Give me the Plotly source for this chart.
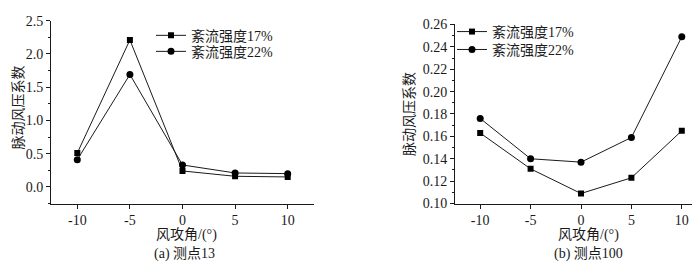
import plotly.graph_objects as go

angles = [-10, -5, 0, 5, 10]
angle_labels = ["-10", "-5", "0", "5", "10"]
a_17 = [0.51, 2.21, 0.24, 0.16, 0.15]
a_22 = [0.41, 1.69, 0.33, 0.21, 0.20]
b_17 = [0.163, 0.131, 0.109, 0.123, 0.165]
b_22 = [0.176, 0.140, 0.137, 0.159, 0.249]
name_17 = "紊流强度17%"
name_22 = "紊流强度22%"
x_title = "风攻角/(°)"
y_title = "脉动风压系数"
cap_a = "(a) 测点13"
cap_b = "(b) 测点100"

FONT = "Liberation Serif, Noto Sans CJK SC, serif"
W, H = 700, 262
INK = "#1a1a1a"
FS = 14

fig = go.Figure()
line = dict(color=INK, width=1)
sq = dict(symbol="square", size=6, color="#000")
ci = dict(symbol="circle", size=7, color="#000")
fig.add_trace(go.Scatter(x=angles, y=a_17, name=name_17, mode="lines+markers",
                         line=line, marker=sq, xaxis="x", yaxis="y", legend="legend"))
fig.add_trace(go.Scatter(x=angles, y=a_22, name=name_22, mode="lines+markers",
                         line=line, marker=ci, xaxis="x", yaxis="y", legend="legend2"))
fig.add_trace(go.Scatter(x=angles, y=b_17, name=name_17, mode="lines+markers",
                         line=line, marker=sq, xaxis="x2", yaxis="y2", legend="legend3"))
fig.add_trace(go.Scatter(x=angles, y=b_22, name=name_22, mode="lines+markers",
                         line=line, marker=ci, xaxis="x2", yaxis="y2", legend="legend4"))

def px(x): return x / W
def py(y): return 1 - y / H

axcommon = dict(showline=True, linecolor=INK, linewidth=1, showgrid=False,
                zeroline=False, ticks="outside", ticklen=4, tickcolor=INK,
                tickfont=dict(family=FONT, size=FS, color=INK), mirror=False)

def leg(x, y):
    return dict(x=px(x), y=py(y), xanchor="left", yanchor="middle",
                bgcolor="rgba(0,0,0,0)", font=dict(family=FONT, size=FS, color=INK),
                itemwidth=30)

fig.update_layout(
    width=W, height=H, margin=dict(l=0, r=0, t=0, b=0),
    paper_bgcolor="white", plot_bgcolor="white",
    font=dict(family=FONT, size=FS, color=INK),
    xaxis=dict(domain=[px(43), px(306)], range=[-12.5, 12.5], tickvals=angles,
               ticktext=angle_labels, anchor="y", **axcommon),
    yaxis=dict(domain=[py(200), py(6)], range=[-0.25, 2.5], dtick=0.5, tickformat=".1f",
               anchor="x", minor=dict(dtick=0.25, ticks="outside", ticklen=2, tickcolor=INK),
               **axcommon),
    xaxis2=dict(domain=[px(447), px(699)], range=[-12.5, 12.5], tickvals=angles,
                ticktext=angle_labels, anchor="y2", **axcommon),
    yaxis2=dict(domain=[py(200), py(10)], range=[0.10, 0.26], dtick=0.02, tickformat=".2f",
                anchor="x2", minor=dict(dtick=0.01, ticks="outside", ticklen=2, tickcolor=INK),
                **axcommon),
    legend=leg(143, 22),
    legend2=leg(143, 39),
    legend3=leg(444, 18),
    legend4=leg(444, 37),
    showlegend=True,
)

ann = [
    dict(text=x_title, x=px(178), y=py(233)),
    dict(text=cap_a, x=px(176), y=py(253)),
    dict(text=x_title, x=px(580), y=py(233)),
    dict(text=cap_b, x=px(580), y=py(253)),
]
for a in ann:
    fig.add_annotation(text=a["text"], x=a["x"], y=a["y"], xref="paper", yref="paper",
                       showarrow=False, xanchor="center", yanchor="middle",
                       font=dict(family=FONT, size=FS, color=INK))
for x, y in [(10, 98), (402, 105)]:
    fig.add_annotation(text=y_title, x=px(x), y=py(y), xref="paper", yref="paper",
                       showarrow=False, textangle=-90, xanchor="center", yanchor="middle",
                       font=dict(family=FONT, size=FS, color=INK))

fig.write_html("out.html")
